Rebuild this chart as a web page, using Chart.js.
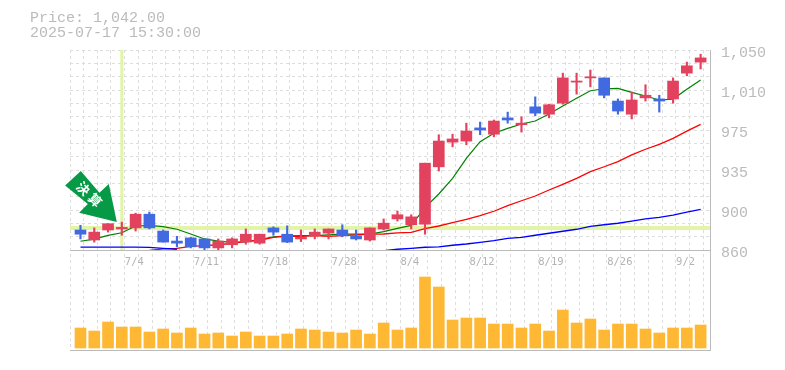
<!DOCTYPE html>
<html>
<head>
<meta charset="utf-8">
<script src="https://cdn.jsdelivr.net/npm/chart.js@4"></script>
<style>
  body { margin: 0; background: #fff; }
  #wrap { position: relative; width: 785px; height: 370px; overflow: hidden; }
  #info { position: absolute; left: 30px; top: 11px; font: 15px/15px "Liberation Mono", monospace; color: #bbb; white-space: pre; }
  canvas { display: block; }
</style>
</head>
<body>
<div id="wrap">
  <div id="info"></div>
  <canvas id="stockChart" width="785" height="370"></canvas>
</div>
<script>
const infoLines = ['Price: 1,042.00', '2025-07-17 15:30:00'];

const dates = ['6/30','7/1','7/2','7/3','7/4','7/7','7/8','7/9','7/10','7/11','7/14','7/15','7/16','7/17','7/18','7/22',
  '7/23','7/24','7/25','7/28','7/29','7/30','7/31','8/1','8/4','8/5','8/6','8/7','8/8','8/12','8/13','8/14','8/15',
  '8/18','8/19','8/20','8/21','8/22','8/25','8/26','8/27','8/28','8/29','9/1','9/2','9/3'];
const dateTicks = ['7/4','7/11','7/18','7/28','8/4','8/12','8/19','8/26','9/2'];
const priceTicks = ['860','900','935','975','1,010','1,050'];

const opens = [879,869.5,879,880,881,894,878,868.5,871.5,870.5,862,865,867.5,866.5,881,875,
  870.5,873.5,876,879,873.5,869.5,880,889.5,884,884.5,939,962.5,963.5,976,970,985.5,979,
  996,989,999.5,1019.5,1023.5,1023.5,1001.5,989,1004.5,1003.5,1003.5,1028,1038.5];
const highs = [883.5,881,885,886.5,895,896,879,873,872,870.5,870.5,871.5,880,875,882,883,
  879,880,880,884,879,881,889.5,897,893.5,942.5,969.5,970,980.5,981.5,983.5,991,986.5,
  1005.5,998.5,1028,1028,1031,1023.5,1003.5,1010,1017,1007,1023.5,1038.5,1046];
const lows = [870.5,867.5,877,874,878,880,867.5,863,862,860,859,862,865.5,865.5,874,867,
  868,870.5,870.5,872.5,869.5,868.5,879,887.5,880,875,935,958,960,969.5,967.5,980.5,972,
  987.5,985.5,998.5,1008,1015,1004.5,989,984.5,1001.5,991,999.5,1025.5,1032];
const closes = [875,877,885,881.5,894,881,867.5,866.5,863,862,868.5,870.5,875,875,877,867.5,
  872,877,880,873.5,870.5,881,885.5,893.5,891.5,942.5,963.5,965.5,973,974,982.5,983.5,980.5,
  990,998,1023.5,1020.5,1024.5,1007,992,1002.5,1007,1001.5,1020.5,1035,1042.5];

const maShort = [868.3,870.4,873.9,876.4,882.8,883.4,882.2,879.7,875.2,870.5,868.5,867.3,867.6,869.8,872.6,873.3,
  873.6,873.6,874.3,875,875,875,877.4,880.6,883.4,900.2,913.2,928.1,947.1,962.9,970.9,975.6,979.7,
  982.5,989.2,996.8,1004.1,1011.3,1013.2,1013.6,1009.8,1006.3,1002.5,1003.4,1012.7,1021.5];
const maMid = [null,null,null,null,null,859.7,861,861.6,863.5,864.1,865,866.4,868.3,869.2,872,873.3,
  873,873.6,873,873.6,874.3,875,875.2,876.2,876.8,880.2,882.8,886,889.2,892.6,896.8,902.1,906.8,
  911.3,917,922.4,928.1,934.4,939.1,943.9,950.3,955.7,960.4,966.1,973,979.4];
const maLong = [862.7,862.7,862.7,862.7,862.7,862.5,861.6,860.7,null,null,null,null,null,null,null,null,
  null,null,null,null,null,null,859.3,860.7,861.6,862.6,862.9,864.5,865.7,867.3,869,871.1,872,
  874,875.9,877.8,879.7,882.5,884,885.4,887.5,889.5,891,893.2,896,898.7];

const volumes = [20,17,26,21,21,16,19,15,20,14,15,12,16,12,12,14,19,18,16,15,18,14,25,
  18,20,71,61,28,30,30,24,24,20,24,17,38,25,29,18,24,24,19,15,20,20,23];

const crossIndex = 3;
const crossPrice = 880.8;
const arrowIndex = 3;
const arrowLabel = ['決', '算'];

const priceMin = 860, priceMax = 1050, priceStep = 38 / 3;
const xMin = -0.76, xMax = 45.68;
const volMin = -2, volMax = 98;
const UP = '#e3425f', DOWN = '#4169e1';

document.getElementById('info').textContent = infoLines.join('\n');

const candleColors = closes.map((c, i) => c >= opens[i] ? UP : DOWN);
const xy = arr => arr.map((y, x) => ({ x, y }));
const ohlcBody = opens.map((o, i) => ({ x: i, y: [o, closes[i]] }));
const ohlcWick = lows.map((l, i) => ({ x: i, y: [l, highs[i]] }));

// arrow marker sits on top of the candle it points at, shape is relative to the tip
const arrowPlugin = {
  id: 'arrowMark',
  afterDatasetsDraw(chart) {
    const { ctx, scales } = chart;
    const tipX = scales.x.getPixelForValue(arrowIndex) - 5;
    const tipY = scales.y.getPixelForValue(highs[arrowIndex]);
    const shape = [[-36, -51], [-51.7, -36.7], [-29, -18], [-37.7, -9.4], [0, 0], [-8, -38], [-17.4, -29.4]];
    ctx.save();
    ctx.fillStyle = '#069a46';
    ctx.beginPath();
    shape.forEach(([dx, dy], i) => i ? ctx.lineTo(tipX + dx, tipY + dy) : ctx.moveTo(tipX + dx, tipY + dy));
    ctx.closePath();
    ctx.fill();
    ctx.fillStyle = '#fff';
    ctx.font = 'bold 13px "Noto Sans CJK JP"';
    ctx.textAlign = 'center';
    ctx.textBaseline = 'middle';
    [[-33.4, -33.4], [-21.7, -22]].forEach(([dx, dy], i) => {
      ctx.save();
      ctx.translate(tipX + dx, tipY + dy);
      ctx.rotate(Math.PI / 4);
      ctx.fillText(arrowLabel[i], 0, 0);
      ctx.restore();
    });
    ctx.restore();
  }
};

const lineDefaults = { type: 'line', pointRadius: 0, tension: 0, fill: false, parsing: true, order: 4, yAxisID: 'y' };

new Chart(document.getElementById('stockChart').getContext('2d'), {
  data: {
    datasets: [
      { ...lineDefaults, label: 'crossV', data: [{ x: crossIndex, y: priceMin }, { x: crossIndex, y: priceMax }], borderColor: '#e2f5a6', borderWidth: 3, order: 6 },
      { ...lineDefaults, label: 'crossH', data: [{ x: xMin, y: crossPrice }, { x: xMax, y: crossPrice }], borderColor: '#e2f5a6', borderWidth: 4, order: 6 },
      { ...lineDefaults, label: 'long', data: xy(maLong), borderColor: '#0000ff', borderWidth: 1.3 },
      { ...lineDefaults, label: 'mid', data: xy(maMid), borderColor: '#ff0000', borderWidth: 1.3 },
      { ...lineDefaults, label: 'short', data: xy(maShort), borderColor: '#008000', borderWidth: 1.2 },
      { type: 'bar', label: 'wick', data: ohlcWick, backgroundColor: candleColors, barThickness: 1.5, grouped: false, order: 2, yAxisID: 'y' },
      { type: 'bar', label: 'body', data: ohlcBody, backgroundColor: candleColors, barThickness: 11, grouped: false, order: 1, yAxisID: 'y' },
      { type: 'bar', label: 'volume', data: xy(volumes), backgroundColor: '#ffb833', barThickness: 11, grouped: false, order: 1, yAxisID: 'yVol' }
    ]
  },
  plugins: [arrowPlugin],
  options: {
    responsive: false,
    animation: false,
    layout: { padding: { left: 70, top: 50, bottom: 20, right: 0 } },
    plugins: { legend: { display: false }, tooltip: { enabled: false } },
    scales: {
      x: {
        type: 'linear',
        offset: false,
        position: { yVol: volMax },
        min: xMin,
        max: xMax,
        afterBuildTicks(axis) {
          axis.ticks = [{ value: xMin }].concat(dates.map((_, i) => ({ value: i + 0.2 })));
        },
        grid: { color: '#ddd', drawTicks: false, offset: false },
        border: { color: '#bbb', dash: [3, 3] },
        ticks: {
          autoSkip: false,
          maxRotation: 0,
          align: 'start',
          labelOffset: -13.5,
          padding: 6,
          color: '#b4b4b4',
          font: { family: '"DejaVu Sans Mono"', size: 10.5 },
          callback(value) {
            const d = dates[Math.round(value - 0.2)];
            return value !== xMin && dateTicks.includes(d) ? d : '';
          }
        }
      },
      y: {
        position: 'right',
        stack: 'main',
        stackWeight: 2,
        min: priceMin,
        max: priceMax,
        afterBuildTicks(axis) {
          axis.ticks = Array.from({ length: 16 }, (_, k) => ({ value: priceMin + k * priceStep }));
        },
        afterFit(axis) { axis.width = 75; },
        grid: { color: '#ddd', drawTicks: false },
        border: { color: '#bbb', dash: [3, 3] },
        ticks: {
          autoSkip: false,
          crossAlign: 'near',
          padding: 11,
          labelOffset: 3.5,
          color: '#bbb',
          font: { family: '"Liberation Mono"', size: 15 },
          callback(value, index) { return index % 3 === 0 ? priceTicks[index / 3] : ''; }
        }
      },
      yVol: {
        position: 'right',
        stack: 'main',
        stackWeight: 1,
        min: volMin,
        max: volMax,
        afterBuildTicks(axis) { axis.ticks = [{ value: volMin }]; },
        afterFit(axis) { axis.width = 75; },
        grid: { color: '#bbb', drawTicks: false },
        border: { color: '#bbb' },
        ticks: { display: false }
      }
    }
  }
});
</script>
</body>
</html>
